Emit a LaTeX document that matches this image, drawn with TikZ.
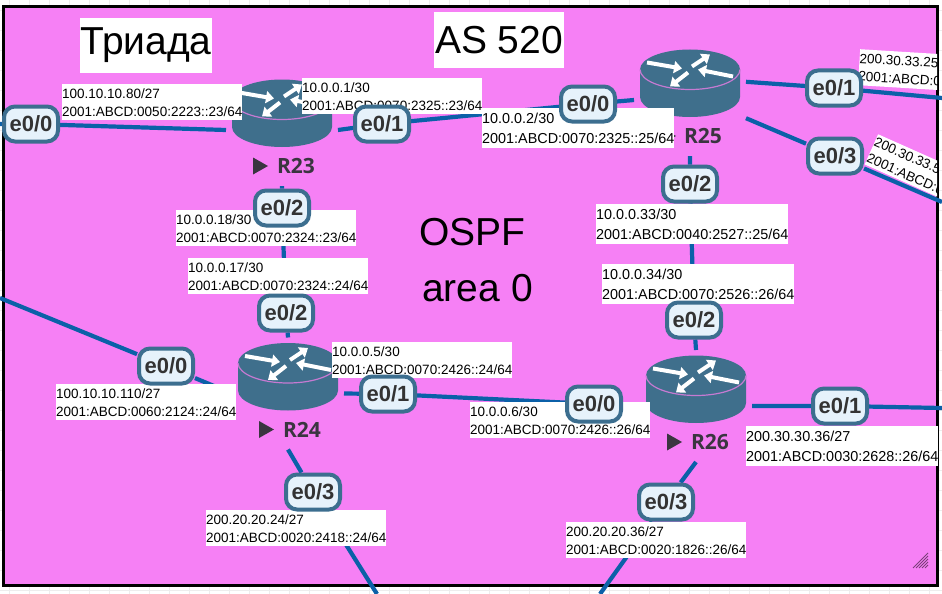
\documentclass[tikz,border=0pt]{standalone}
\usepackage{fontspec}
\setmainfont{Liberation Sans}
\newfontfamily\tagfont{Open Sans}
\usetikzlibrary{arrows.meta,backgrounds,calc}

\definecolor{areapink}{HTML}{F680F5}
\definecolor{linkblue}{HTML}{0B60A8}
\definecolor{portedge}{HTML}{3C6E8F}
\definecolor{portfill}{HTML}{E6F2FB}
\definecolor{routerblue}{HTML}{3F6F8C}
\definecolor{routerpink}{HTML}{C67AD2}
\definecolor{nameink}{HTML}{3A3540}

\tikzset{
	link/.style={draw=linkblue, line width=4.2pt},
	port/.style={draw=portedge, fill=portfill, line width=4pt, rounded corners=11pt, minimum width=54pt, minimum height=35pt, inner sep=0pt, text=black!80, font=\fontsize{22}{24}\selectfont\bfseries},
	routerbox/.style={minimum size=112pt, inner sep=0pt, outer sep=0pt},
	rname/.style={text=nameink, inner sep=0pt, font=\fontsize{21}{24}\selectfont\tagfont\bfseries},
	ipsmall/.style={fill=white, anchor=north west, inner sep=0pt, text width=180pt, minimum height=36pt, align=left, font=\fontsize{13.5}{18}\selectfont},
	iplarge/.style={fill=white, anchor=north west, inner sep=0pt, text width=192pt, minimum height=40pt, align=left, font=\fontsize{14.4}{20}\selectfont},
	title/.style={inner sep=0pt, font=\fontsize{39}{44}\selectfont},
	flow/.style={white, line width=4pt, -{Triangle[length=8pt,width=12pt]}},
	router/.pic={
		\fill[routerblue] (-50,-14) -- (-50,13.5) arc[start angle=180, end angle=0, x radius=50, y radius=20] -- (50,-14) -- cycle;
		\fill[routerblue] (0,-14) ellipse[x radius=50, y radius=20];
		\draw[routerpink, line width=1.2pt] (-50,-14) arc[start angle=180, end angle=0, x radius=50, y radius=20];
		\draw[flow] (-43,-21) -- (-8,-15);
		\draw[flow] (2,-17) -- (20,-29);
		\draw[flow] (43,-7) -- (8,-14);
		\draw[flow] (-2,-11) -- (-20,3);
		\fill[nameink] (-29,44) -- (-29,61) -- (-14,52.5) -- cycle;
	}
}

\begin{document}
\begin{tikzpicture}[x=1pt,y=-1pt]
	\useasboundingbox (0,0) rectangle (942,594);

	% interfaces
	\node[port] (R23e0) at (31,124) {e0/0};
	\node[port] (R23e1) at (382,124) {e0/1};
	\node[port] (R23e2) at (282,208) {e0/2};
	\node[port] (R24e0) at (166,366) {e0/0};
	\node[port] (R24e1) at (388,394) {e0/1};
	\node[port] (R24e2) at (286,313) {e0/2};
	\node[port] (R24e3) at (313,492) {e0/3};
	\node[port] (R25e0) at (588,104) {e0/0};
	\node[port] (R25e1) at (834,88) {e0/1};
	\node[port] (R25e2) at (690,184) {e0/2};
	\node[port] (R25e3) at (835,156) {e0/3};
	\node[port] (R26e0) at (594,404) {e0/0};
	\node[port] (R26e1) at (840,406) {e0/1};
	\node[port] (R26e2) at (694,320) {e0/2};
	\node[port] (R26e3) at (666,502) {e0/3};

	\begin{scope}[on background layer]
		% sheet
		\foreach \x in {9,29,...,949}
			\draw[black!7] (\x,0) -- (\x,594);
		\foreach \y in {10,30,...,590}
			\draw[black!7] (0,\y) -- (942,\y);
		\draw[black, line width=3pt, fill=areapink] (3,7) rectangle (937,585);
		\foreach \d in {3,6,...,15}
			\draw[black!50!areapink, line width=1pt] (928-\d,568) -- (928,568-\d);

		% routers
		\node[routerbox] (R23) at (282,130) {};
		\node[routerbox] (R24) at (288,393.5) {};
		\node[routerbox] (R25) at (690,100) {};
		\node[routerbox] (R26) at (696,406) {};
		\pic at ($(R23)+(0,-16.5)$) {router};
		\pic at ($(R24)+(0,-16.5)$) {router};
		\pic at ($(R25)+(0,-16.5)$) {router};
		\pic at ($(R26)+(0,-16.5)$) {router};
		\node[rname] (nameR23) at ($(R23)+(14,36)$) {R23};
		\node[rname] (nameR24) at ($(R24)+(14,36)$) {R24};
		\node[rname] (nameR25) at ($(R25)+(13,36)$) {R25};
		\node[rname] (nameR26) at ($(R26)+(14,36)$) {R26};

		% links
		\coordinate (outR23) at (0,124);
		\coordinate (outR24a) at (0,298);
		\coordinate (outR24b) at (377,594);
		\coordinate (outR25a) at (942,98);
		\coordinate (outR25b) at (942,202);
		\coordinate (outR26a) at (942,408);
		\coordinate (outR26b) at (600,594);
		\draw[link] (R23.west) -- (R23e0) -- (outR23);
		\draw[link] (R23.east) -- (R23e1) -- (R25e0) -- (R25.west);
		\draw[link] (R23.south) -- (R23e2) -- (R24e2) -- (R24.north);
		\draw[link] (R24.west) -- (R24e0) -- (outR24a);
		\draw[link] (R24.east) -- (R24e1) -- (R26e0) -- (R26.west);
		\draw[link] (R24.south) -- (R24e3) -- (outR24b);
		\draw[link] (R25.south) -- (R25e2) -- (R26e2) -- (R26.north);
		\draw[link] (R25.18) -- (R25e1) -- (outR25a);
		\draw[link] (R25.-18) -- (R25e3) -- (outR25b);
		\draw[link] (R26.east) -- (R26e1) -- (outR26a);
		\draw[link] (R26.south) -- (R26e3) -- (outR26b);

		% addresses
		\node[ipsmall] (ipR23e0) at (62,84) {100.10.10.80/27\\2001:ABCD:0050:2223::23/64};
		\node[ipsmall] (ipR23e1) at (302,78) {10.0.0.1/30\\2001:ABCD:0070:2325::23/64};
		\node[ipsmall] (ipR23e2) at (176,210) {10.0.0.18/30\\2001:ABCD:0070:2324::23/64};
		\node[ipsmall] (ipR24e2) at (188,258) {10.0.0.17/30\\2001:ABCD:0070:2324::24/64};
		\node[ipsmall] (ipR24e0) at (56,384) {100.10.10.110/27\\2001:ABCD:0060:2124::24/64};
		\node[ipsmall] (ipR24e1) at (332,342) {10.0.0.5/30\\2001:ABCD:0070:2426::24/64};
		\node[ipsmall] (ipR24e3) at (206,510) {200.20.20.24/27\\2001:ABCD:0020:2418::24/64};
		\node[ipsmall] (ipR26e0) at (470,402) {10.0.0.6/30\\2001:ABCD:0070:2426::26/64};
		\node[ipsmall] (ipR26e3) at (566,522) {200.20.20.36/27\\2001:ABCD:0020:1826::26/64};
		\node[iplarge] (ipR25e0) at (482,108) {10.0.0.2/30\\2001:ABCD:0070:2325::25/64};
		\node[iplarge] (ipR25e2) at (596,204) {10.0.0.33/30\\2001:ABCD:0040:2527::25/64};
		\node[iplarge] (ipR26e2) at (602,264) {10.0.0.34/30\\2001:ABCD:0070:2526::26/64};
		\node[iplarge] (ipR26e1) at (746,426) {200.30.30.36/27\\2001:ABCD:0030:2628::26/64};
		\begin{scope}
			\clip (3,7) rectangle (937,585);
			\node[ipsmall, rotate=-3.5] (ipR25e1) at (860,49) {200.30.33.25/\\2001:ABCD:0};
			\node[ipsmall, rotate=-24, minimum height=33pt] (ipR25e3) at (878,134) {200.30.33.5\\2001:ABCD:0};
		\end{scope}

		% titles
		\node[title, fill=white, minimum width=132pt, minimum height=55pt] (triad) at (146,45.5) {Триада};
		\node[title, fill=white, minimum width=130pt, minimum height=56pt] (asnum) at (499,40) {AS 520};
		\node[title, anchor=west] (ospf) at (419,232) {OSPF};
		\node[title, anchor=west] (area) at (422,288) {area 0};
	\end{scope}
\end{tikzpicture}
\end{document}
